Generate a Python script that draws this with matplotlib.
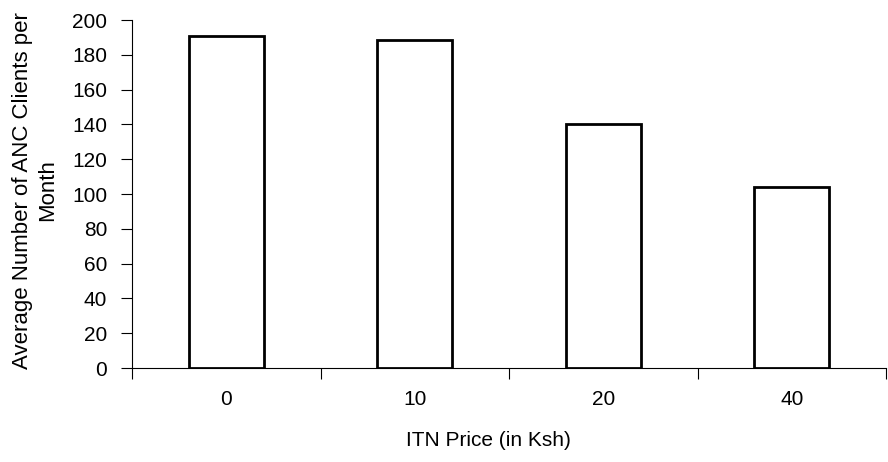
import matplotlib
matplotlib.use("Agg")
import matplotlib.pyplot as plt
import numpy as np

categories = ["0", "10", "20", "40"]
values = [191, 188.5, 140, 104]
y_ticks = [0, 20, 40, 60, 80, 100, 120, 140, 160, 180, 200]

plt.rcParams['font.family'] = ['Liberation Sans', 'DejaVu Sans']

fig = plt.figure(figsize=(8.88, 4.62), dpi=100)
L, R, T, B = 132, 886, 20, 368
ax = fig.add_axes([L/888, 1-B/462, (R-L)/888, (B-T)/462])

x = np.arange(len(categories))
ax.bar(x, values, width=0.4, color='white', edgecolor='black', linewidth=2, zorder=3)

ax.set_xlim(-0.5, len(categories) - 0.5)
ax.set_ylim(0, 200)
ax.set_yticks(y_ticks)
ax.set_yticklabels([str(t) for t in y_ticks], fontsize=15)
ax.set_xticks(x)
ax.set_xticklabels(categories, fontsize=15)
ax.tick_params(axis='x', which='major', length=0, pad=16)
ax.set_xticks(np.arange(-0.5, len(categories), 1.0), minor=True)
ax.tick_params(axis='x', which='minor', length=8, direction='out', width=0.8)
ax.tick_params(axis='y', length=8, direction='out', width=0.8, pad=10)

for s in ['top', 'right']:
    ax.spines[s].set_visible(False)
ax.spines['left'].set_linewidth(0.8)
ax.spines['bottom'].set_linewidth(0.8)

ax.set_xlabel("ITN Price (in Ksh)", fontsize=15)
ax.xaxis.set_label_coords((488 - L) / (R - L), (B - 431) / (B - T))
ax.set_ylabel("Average Number of ANC Clients per\nMonth", fontsize=16, linespacing=1.25)
ax.yaxis.set_label_coords((58 - L) / (R - L), 0.51)

fig.savefig("out.png", dpi=100)
